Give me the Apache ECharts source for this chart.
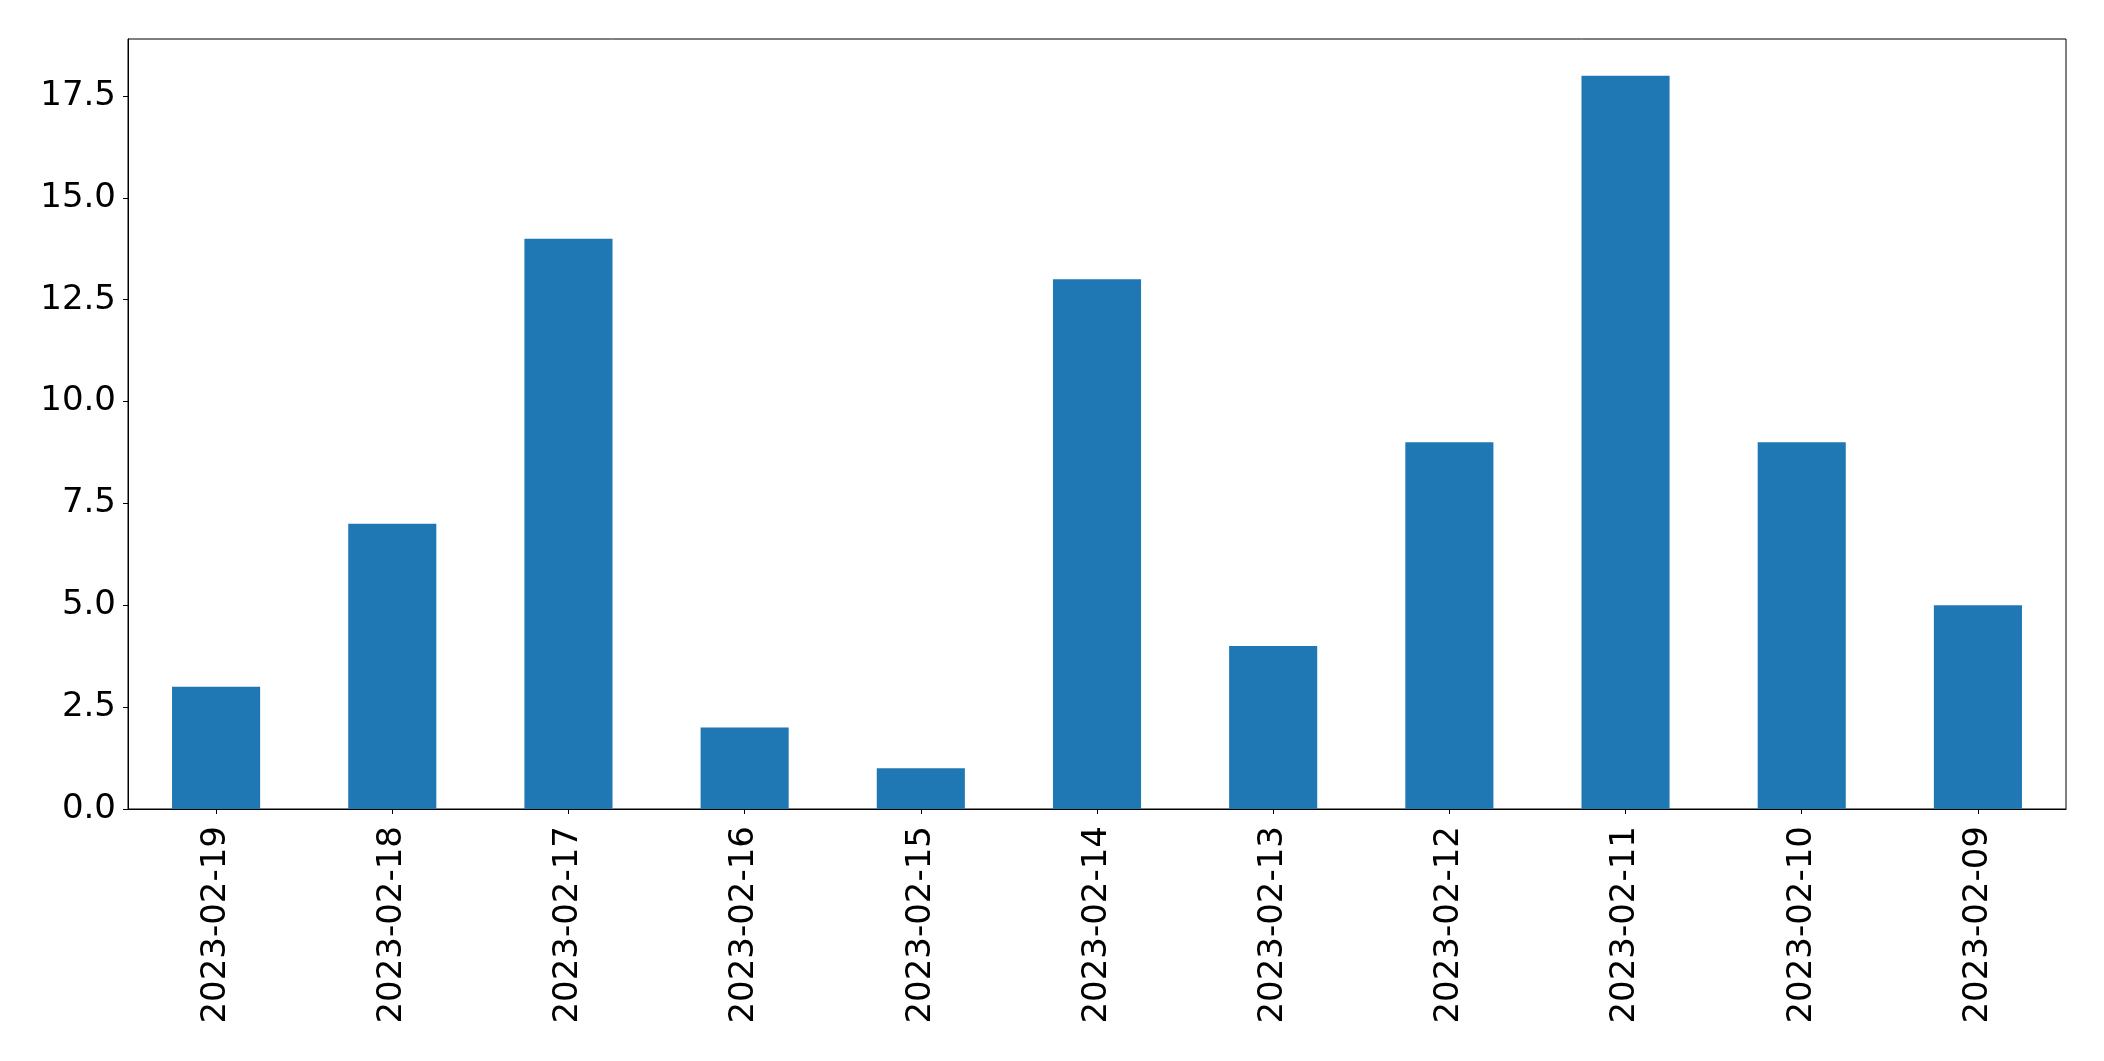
<!DOCTYPE html>
<html>
<head>
<meta charset="utf-8">
<script src="https://cdn.jsdelivr.net/npm/echarts@6/dist/echarts.min.js"></script>
<style>
html,body{margin:0;padding:0;background:#fff;}
#chart{width:2104px;height:1061px;}
</style>
</head>
<body>
<div id="chart"></div>
<script>
const categories = ['2023-02-19','2023-02-18','2023-02-17','2023-02-16','2023-02-15','2023-02-14','2023-02-13','2023-02-12','2023-02-11','2023-02-10','2023-02-09'];
const values = [3, 7, 14, 2, 1, 13, 4, 9, 18, 9, 5];
const yTicks = [0, 2.5, 5, 7.5, 10, 12.5, 15, 17.5];
const yMax = 18.9;

const font = 'DejaVu Sans';
const chart = echarts.init(document.getElementById('chart'));
chart.setOption({
  animation: false,
  backgroundColor: '#fff',
  grid: {
    left: 128, right: 38, top: 39, bottom: 252,
    show: true, borderColor: '#000', borderWidth: 1, backgroundColor: 'transparent'
  },
  xAxis: {
    type: 'category',
    data: categories,
    boundaryGap: true,
    axisLine: {show: true, lineStyle: {color: '#000', width: 1}},
    axisTick: {show: true, alignWithLabel: true, length: 5, lineStyle: {color: '#000', width: 1}},
    axisLabel: {rotate: 90, margin: 17, color: '#000', fontFamily: font, fontSize: 34, interval: 0},
    splitLine: {show: false}
  },
  yAxis: {
    type: 'value',
    min: 0, max: yMax,
    axisLine: {show: true, lineStyle: {color: '#000', width: 1}},
    axisTick: {show: true, length: 5, lineStyle: {color: '#000', width: 1}, customValues: yTicks},
    axisLabel: {margin: 12, color: '#000', fontFamily: font, fontSize: 34, customValues: yTicks,
      formatter: v => v.toFixed(1)},
    splitLine: {show: false}
  },
  series: [{
    type: 'bar',
    data: values,
    barWidth: '50%',
    itemStyle: {color: '#1f77b4'}
  }]
});
</script>
</body>
</html>
